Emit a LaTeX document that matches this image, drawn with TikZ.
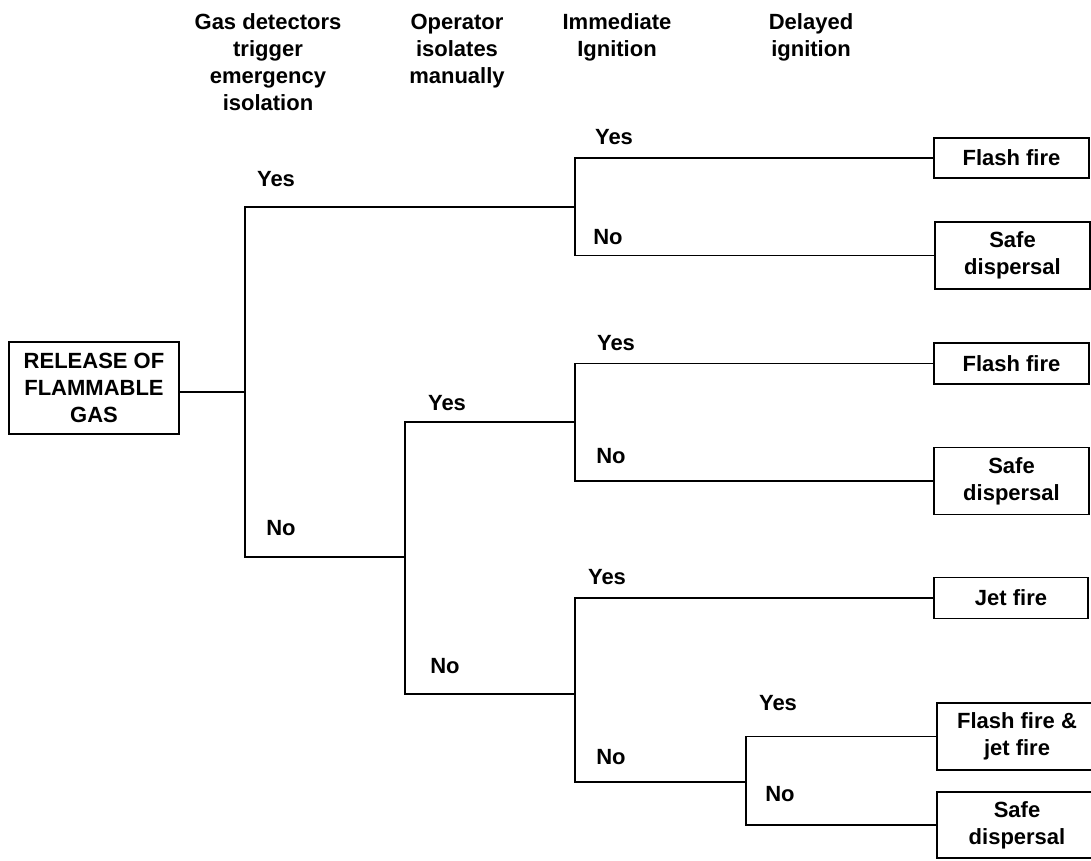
\documentclass[tikz,border=0pt]{standalone}
\usepackage{fontspec}
\setmainfont{Liberation Sans}
\begin{document}
\begin{tikzpicture}[x=1pt,y=-1pt,
  every node/.style={font=\fontsize{22}{27}\selectfont\bfseries},
  outcome/.style={draw,line width=1.8pt,inner sep=0pt,align=center},
  lbl/.style={inner sep=0pt},
  hdr/.style={inner sep=0pt,align=center,anchor=base},
  conn/.style={line width=1.8pt}]
\useasboundingbox (0,0) rectangle (1091,860);
% headers (anchor base = baseline of last line)
\node[hdr] (h1) at (268,110) {Gas detectors\\trigger\\emergency\\isolation};
\node[hdr] (h2) at (457,83) {Operator\\isolates\\manually};
\node[hdr] (h3) at (617,56) {Immediate\\Ignition};
\node[hdr] (h4) at (811,56) {Delayed\\ignition};
% boxes
\node[outcome,minimum width=170pt,minimum height=92pt] (rel) at (94,388) {RELEASE OF\\FLAMMABLE\\GAS};
\node[outcome,minimum width=155pt,minimum height=40pt] (ff1) at (1011.5,158) {Flash fire};
\node[outcome,minimum width=155pt,minimum height=67pt] (sd1) at (1012.5,255.5) {Safe\\dispersal};
\node[outcome,minimum width=155pt,minimum height=41pt] (ff2) at (1011.5,363.5) {Flash fire};
\node[outcome,minimum width=155pt,minimum height=67pt] (sd2) at (1011.5,481) {Safe\\dispersal};
\node[outcome,minimum width=154pt,minimum height=41pt] (jf) at (1011,598) {Jet fire};
\node[outcome,minimum width=160pt,minimum height=67pt] (fj) at (1017,736.5) {Flash fire \&\\jet fire};
\node[outcome,minimum width=160pt,minimum height=66pt] (sd3) at (1017,825) {Safe\\dispersal};
% branch points
\coordinate (g) at (245,392);
\coordinate (gy) at (245,207);
\coordinate (gn) at (245,557);
\coordinate (i1) at (575,207);
\coordinate (o) at (405,557);
\coordinate (oy) at (405,422);
\coordinate (on) at (405,694);
\coordinate (i2) at (575,422);
\coordinate (i3) at (575,694);
\coordinate (i3n) at (575,782);
\coordinate (d) at (746,782);
% connectors
\draw[conn] (rel.east |- g) -- (g);
\draw[conn] (i1) -- (gy) -- (gn) -- (o);
\draw[conn] (ff1.west) -| (i1) |- (sd1.west);
\draw[conn] (i2) -- (oy) -- (on) -- (i3);
\draw[conn] (ff2.west) -| (i2) |- (sd2.west);
\draw[conn] (jf.west) -| (i3) -- (i3n) -- (d);
\draw[conn] (fj.west) -| (d) |- (sd3.west);
% labels
\node[lbl] (l1y) at (276,179) {Yes};
\node[lbl] (l1n) at (281,528) {No};
\node[lbl] (l2y) at (447,403) {Yes};
\node[lbl] (l2n) at (445,666) {No};
\node[lbl] (a1y) at (614,137) {Yes};
\node[lbl] (a1n) at (608,237) {No};
\node[lbl] (a2y) at (616,343) {Yes};
\node[lbl] (a2n) at (611,456) {No};
\node[lbl] (a3y) at (607,577) {Yes};
\node[lbl] (a3n) at (611,757) {No};
\node[lbl] (dy) at (778,703) {Yes};
\node[lbl] (dn) at (780,794) {No};
\end{tikzpicture}
\end{document}
